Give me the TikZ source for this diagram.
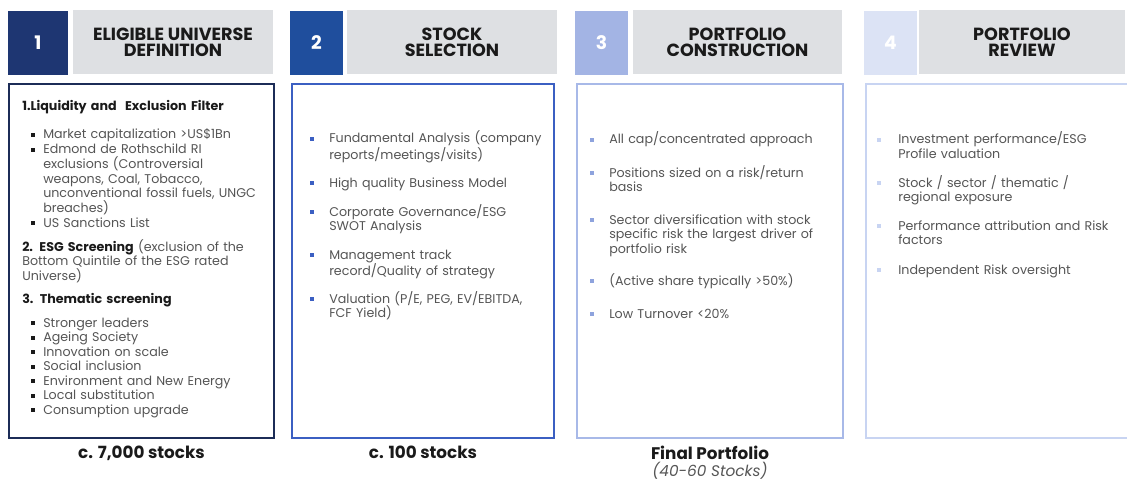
\documentclass[tikz,border=0pt]{standalone}
\usepackage{fontspec}
\setmainfont{Poppins}
\usetikzlibrary{positioning}

\definecolor{navy}{HTML}{1E3672}
\definecolor{navyline}{HTML}{1C2C57}
\definecolor{royal}{HTML}{1F4E9D}
\definecolor{royalline}{HTML}{3B5FC2}
\definecolor{periwinkle}{HTML}{A3B4E4}
\definecolor{periline}{HTML}{A8B9E8}
\definecolor{pale}{HTML}{DCE3F5}
\definecolor{paleline}{HTML}{C8D4F2}
\definecolor{headgray}{HTML}{DEE0E3}
\definecolor{ink}{HTML}{1A1A1A}
\definecolor{body}{HTML}{555555}

\begin{document}
\begin{tikzpicture}[x=0.75pt,y=-0.75pt,
  numbox/.style={minimum width=39.75pt,minimum height=48pt,inner sep=0pt,text=white,
    font=\bfseries\fontsize{14}{14}\selectfont},
  headbox/.style={fill=headgray,minimum height=48pt,inner sep=0pt,align=center,text=ink,
    font=\bfseries\fontsize{13.2}{12}\selectfont},
  stage/.style={draw,fill=white,line width=1.6pt,minimum height=265.5pt,inner sep=0pt},
  txt/.style={anchor=base west,text width=220pt,align=left,inner sep=0pt,text=body,
    font=\fontsize{9.5}{10.9}\selectfont},
  bold/.style={text=ink,font=\bfseries\fontsize{9.5}{10.9}\selectfont},
  sq/.style={rectangle,minimum size=3pt,inner sep=0pt,yshift=2.8pt},
  total/.style={text=ink,font=\bfseries\fontsize{12.6}{14}\selectfont}]

  \useasboundingbox (0,0) rectangle (1127,481);

  % step headers
  \node[numbox,fill=navy,minimum width=45pt] (num1) at (38,43) {1};
  \node[headbox,minimum width=150pt] (head1) at (173,42) {ELIGIBLE UNIVERSE\\DEFINITION};
  \node[numbox,fill=royal] (num2) at (316.5,43) {2};
  \node[headbox,minimum width=157.5pt] (head2) at (452,42) {STOCK\\SELECTION};
  \node[numbox,fill=periwinkle] (num3) at (601.5,43) {3};
  \node[headbox,minimum width=156.75pt] (head3) at (737.5,42) {PORTFOLIO\\CONSTRUCTION};
  \node[numbox,fill=pale] (num4) at (890.5,43) {4};
  \node[headbox,minimum width=154.5pt] (head4) at (1022,42) {PORTFOLIO\\REVIEW};

  % stage frames (the last one runs off the right edge)
  \node[stage,draw=navyline,minimum width=198.75pt] (box1) at (141.5,261) {};
  \node[stage,draw=royalline,minimum width=196.5pt] (box2) at (423,261) {};
  \node[stage,draw=periline,minimum width=199.5pt] (box3) at (710,261) {};
  \node[stage,draw=paleline,minimum width=201.75pt] (box4) at (1000.5,261) {};

  % 1: eligible universe
  \node[txt,bold] (c1h1) at (22,111) {1.Liquidity and\ \ Exclusion Filter};
  \foreach \y/\t [count=\i] in {139/{Market capitalization >US\$1Bn},
      154/{Edmond de Rothschild RI\\exclusions (Controversial\\weapons, Coal, Tobacco,\\unconventional fossil fuels, UNGC\\breaches)},
      227/{US Sanctions List}} {
    \node[txt] (c1i\i) at (43,\y) {\t};
    \node[sq,fill=ink,left=5.5pt of c1i\i.base west] (c1b\i) {};
  }
  \node[txt] (c1h2) at (22,251) {\textbf{\color{ink}2. ESG Screening} (exclusion of the\\Bottom Quintile of the ESG rated\\Universe)};
  \node[txt,bold] (c1h3) at (22,303) {3. Thematic screening};
  \foreach \t [count=\i] in {Stronger leaders,Ageing Society,Innovation on scale,Social inclusion,
      Environment and New Energy,Local substitution,Consumption upgrade} {
    \node[txt] (c1t\i) at (43,312.5+14.5*\i) {\t};
    \node[sq,fill=ink,left=5.5pt of c1t\i.base west] (c1s\i) {};
  }

  % 2: stock selection
  \foreach \y/\t [count=\i] in {143/{Fundamental Analysis (company\\reports/meetings/visits)},
      187/{High quality Business Model},
      216/{Corporate Governance/ESG\\SWOT Analysis},
      259/{Management track\\record/Quality of strategy},
      303/{Valuation (P/E, PEG, EV/EBITDA,\\FCF Yield)}} {
    \node[txt] (c2i\i) at (329,\y) {\t};
    \node[sq,fill=royalline,left=11pt of c2i\i.base west] (c2b\i) {};
  }

  % 3: portfolio construction
  \foreach \y/\t [count=\i] in {144/{All cap/concentrated approach},
      177/{Positions sized on a risk/return\\basis},
      224/{Sector diversification with stock\\specific risk the largest driver of\\portfolio risk},
      285/{(Active share typically >50\%)},
      318/{Low Turnover <20\%}} {
    \node[txt] (c3i\i) at (609,\y) {\t};
    \node[sq,fill=periwinkle!80!royalline,left=11pt of c3i\i.base west] (c3b\i) {};
  }

  % 4: portfolio review
  \foreach \y/\t [count=\i] in {144/{Investment performance/ESG\\Profile valuation},
      187/{Stock / sector / thematic /\\regional exposure},
      230/{Performance attribution and Risk\\factors},
      274/{Independent Risk oversight}} {
    \node[txt] (c4i\i) at (898,\y) {\t};
    \node[sq,fill=paleline,left=12.5pt of c4i\i.base west] (c4b\i) {};
  }

  % universe size after each step
  \node[total,below=1.5pt of box1] (n1) {c. 7,000 stocks};
  \node[total,below=1.5pt of box2] (n2) {c. 100 stocks};
  \node[total,below=1.5pt of box3] (n3) {Final Portfolio};
  \node[below=-5pt of n3,text=body,font=\itshape\fontsize{11.5}{13}\selectfont] (n3b) {(40-60 Stocks)};
\end{tikzpicture}
\end{document}
